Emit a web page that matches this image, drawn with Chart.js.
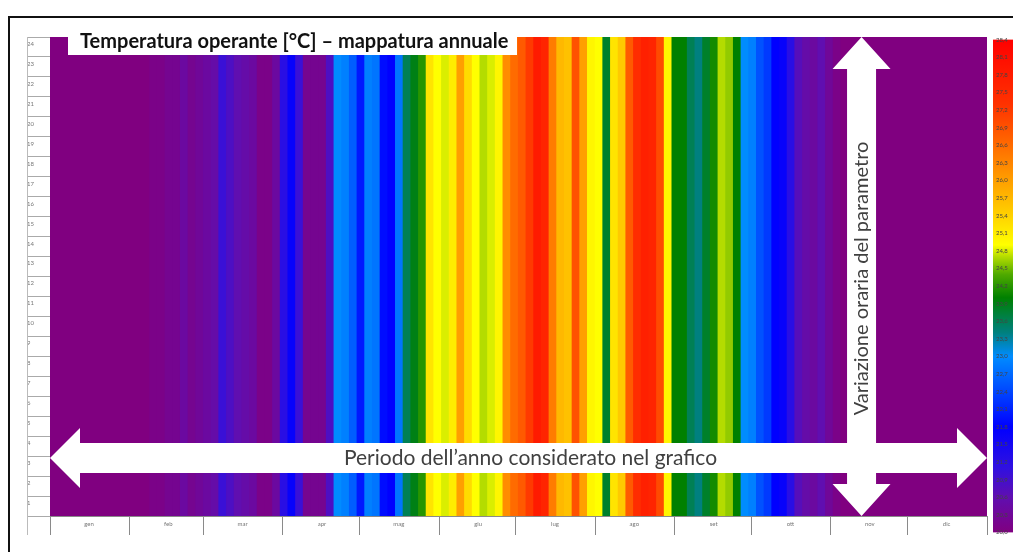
<!DOCTYPE html>
<html>
<head>
<meta charset="utf-8">
<script src="https://cdn.jsdelivr.net/npm/chart.js@4.4.0/dist/chart.umd.min.js"></script>
<style>
html, body { margin: 0; padding: 0; background: #fff; width: 1013px; height: 552px; overflow: hidden; }
#cornice { position: absolute; left: 8px; top: 16px; width: 1100px; height: 600px; border-left: 2px solid #111; border-top: 2px solid #111; }
#mappa { position: absolute; left: 0; top: 0; }
#scala { position: absolute; left: 993px; top: 33px; }
</style>
</head>
<body>
<div id="cornice"></div>
<canvas id="mappa" width="1013" height="552"></canvas>
<canvas id="scala" width="40" height="506"></canvas>
<script>
const tempColonne = [
    20.0,20.0,20.0,20.0,20.0,20.0,20.0,20.0,20.0,20.0,20.0,20.0,20.0,
    20.1,20.1,20.2,20.2,20.4,20.2,20.3,20.4,
    20.5,21.0,20.8,20.6,20.5,20.4,20.1,20.1,20.4,
    21.2,21.7,21.0,20.2,20.2,20.2,20.8,
    23.0,22.9,22.6,22.0,22.9,22.8,21.9,21.8,22.8,23.6,23.9,24.2,
    25.2,24.9,24.8,25.1,26.0,25.3,24.9,24.7,24.8,25.0,26.2,26.6,
    26.8,27.2,27.8,27.6,26.4,25.7,25.6,26.9,26.0,25.0,24.9,23.8,
    25.2,25.5,26.8,27.4,27.7,27.6,27.0,25.0,24.0,24.0,23.6,23.4,
    23.8,24.1,24.7,24.6,24.0,23.0,22.9,22.5,22.3,21.8,21.7,21.2,
    20.7,20.5,20.4,20.6,20.3,20.1,
    20.0,20.0,20.0,20.0,20.0,20.0,20.0,20.0,20.0,20.0,20.0,20.0,20.0,20.0,20.0,20.0,20.0,20.0,20.0
];
const mesi = ['gen','feb','mar','apr','mag','giu','lug','ago','set','ott','nov','dic'];
const inizioMesi = [0,31,60,91,121,152,182,213,244,274,305,335,366];
const oreTick = [0,1,2,3,4,5,6,7,8,9,10,11,12,13,14,15,16,17,18,19,20,21,22,23,24];
const scalaTick = [20.0,20.3,20.6,20.9,21.2,21.5,21.8,22.1,22.4,22.7,23.0,23.3,23.6,23.9,24.2,24.5,24.8,25.1,25.4,25.7,26.0,26.3,26.6,26.9,27.2,27.5,27.8,28.1,28.4];

const GIORNI_COL = 3;
const titolo = 'Temperatura operante [°C] – mappatura annuale';
const testoOrizz = 'Periodo dell’anno considerato nel grafico';
const testoVert = 'Variazione oraria del parametro';

// scala colori viola -> blu -> verde -> giallo -> rosso
const tappe = [
    [20.0, [128,0,128]], [20.6, [96,14,176]], [21.1, [48,16,224]], [21.8, [0,0,255]],
    [22.4, [0,70,255]], [23.0, [0,140,255]], [23.4, [0,128,128]], [24.0, [0,128,0]],
    [24.4, [80,170,0]], [24.7, [180,220,0]], [24.9, [255,255,0]], [25.4, [255,210,0]],
    [26.1, [255,150,0]], [26.8, [255,90,0]], [27.3, [255,50,0]], [28.4, [255,0,0]]
];

function coloreTemp(t) {
    if (t <= tappe[0][0]) return 'rgb(' + tappe[0][1].join(',') + ')';
    for (let i = 1; i < tappe.length; i++) {
        if (t <= tappe[i][0]) {
            const a = tappe[i - 1], b = tappe[i];
            const f = (t - a[0]) / (b[0] - a[0]);
            const c = a[1].map((v, k) => Math.round(v + (b[1][k] - v) * f));
            return 'rgb(' + c.join(',') + ')';
        }
    }
    return 'rgb(' + tappe[tappe.length - 1][1].join(',') + ')';
}

const sovrapposizioni = {
    id: 'sovrapposizioni',
    afterDatasetsDraw(chart) {
        const ctx = chart.ctx;
        const ca = chart.chartArea;
        const sx = chart.scales.x, sy = chart.scales.y;
        ctx.save();
        ctx.fillStyle = '#fff';

        // freccia orizzontale
        const hy = sy.getPixelForValue(2.9);
        const hs = 15, hh = 30, hl = 30;
        ctx.beginPath();
        ctx.moveTo(ca.left, hy);
        ctx.lineTo(ca.left + hl, hy - hh);
        ctx.lineTo(ca.left + hl, hy - hs);
        ctx.lineTo(ca.right - hl, hy - hs);
        ctx.lineTo(ca.right - hl, hy - hh);
        ctx.lineTo(ca.right, hy);
        ctx.lineTo(ca.right - hl, hy + hh);
        ctx.lineTo(ca.right - hl, hy + hs);
        ctx.lineTo(ca.left + hl, hy + hs);
        ctx.lineTo(ca.left + hl, hy + hh);
        ctx.closePath();
        ctx.fill();

        // freccia verticale
        const vx = sx.getPixelForValue(317);
        const vs = 14.5, vh = 29, vl = 32;
        ctx.beginPath();
        ctx.moveTo(vx, ca.top);
        ctx.lineTo(vx + vh, ca.top + vl);
        ctx.lineTo(vx + vs, ca.top + vl);
        ctx.lineTo(vx + vs, ca.bottom - vl);
        ctx.lineTo(vx + vh, ca.bottom - vl);
        ctx.lineTo(vx, ca.bottom);
        ctx.lineTo(vx - vh, ca.bottom - vl);
        ctx.lineTo(vx - vs, ca.bottom - vl);
        ctx.lineTo(vx - vs, ca.top + vl);
        ctx.lineTo(vx - vh, ca.top + vl);
        ctx.closePath();
        ctx.fill();

        // riquadro titolo
        ctx.fillRect(ca.left + 18, ca.top - 11, 449, 29);

        ctx.fillStyle = '#111';
        ctx.font = 'bold 20px Lato';
        ctx.textAlign = 'left';
        ctx.textBaseline = 'middle';
        ctx.fillText(titolo, ca.left + 30, ca.top + 5);

        ctx.fillStyle = '#404040';
        ctx.font = '21px Lato';
        ctx.textAlign = 'center';
        ctx.fillText(testoOrizz, (ca.left + ca.right) / 2 + 12, hy);

        ctx.translate(vx, (ca.top + ca.bottom) / 2 + 2);
        ctx.rotate(-Math.PI / 2);
        ctx.font = '20px Lato';
        ctx.fillText(testoVert, 0, 0);
        ctx.restore();

        // bordo sinistro colonna ore
        ctx.save();
        ctx.strokeStyle = '#bbb';
        ctx.lineWidth = 1;
        ctx.beginPath();
        ctx.moveTo(sy.left + 0.5, ca.top);
        ctx.lineTo(sy.left + 0.5, ca.bottom + 19);
        ctx.stroke();
        ctx.restore();
    }
};

new Chart(document.getElementById('mappa'), {
    type: 'bar',
    data: {
        datasets: [{
            data: tempColonne.map((t, i) => ({x: i * GIORNI_COL + GIORNI_COL / 2, y: [0, 24]})),
            backgroundColor: tempColonne.map(coloreTemp),
            borderWidth: 0,
            barPercentage: 1,
            categoryPercentage: 1,
            inflateAmount: 0.6
        }]
    },
    options: {
        responsive: false,
        animation: false,
        layout: {padding: {left: 27, top: 37, right: 26, bottom: 17}},
        plugins: {legend: {display: false}, tooltip: {enabled: false}},
        scales: {
            x: {
                type: 'linear',
                min: 0,
                max: 366,
                offset: false,
                afterBuildTicks: s => { s.ticks = inizioMesi.map(v => ({value: v})); },
                afterFit: s => { s.height = 19; },
                grid: {drawOnChartArea: false, offset: false, tickLength: 19, color: '#8a8a8a'},
                border: {color: '#8a8a8a'},
                ticks: {
                    autoSkip: false, maxRotation: 0, padding: -15, labelOffset: 39,
                    font: {size: 6, family: 'Lato'}, color: '#777',
                    callback: (v, i) => mesi[i] || ''
                }
            },
            y: {
                min: 0,
                max: 24,
                afterBuildTicks: s => { s.ticks = oreTick.map(v => ({value: v})); },
                afterFit: s => { s.width = 23; },
                grid: {drawOnChartArea: false, tickLength: 23, color: '#aaa'},
                border: {color: '#8a8a8a'},
                ticks: {
                    autoSkip: false, crossAlign: 'far', labelOffset: 7, padding: 0,
                    font: {size: 6, family: 'Lato'}, color: '#777',
                    callback: v => v === 0 ? '' : String(v)
                }
            }
        }
    },
    plugins: [sovrapposizioni]
});

new Chart(document.getElementById('scala'), {
    type: 'bar',
    data: {
        labels: [''],
        datasets: [{
            data: [[scalaTick[0], scalaTick[scalaTick.length - 1]]],
            backgroundColor: c => {
                const ys = c.chart.scales.y;
                if (!ys || ys.bottom === undefined) return '#800080';
                const lo = scalaTick[0], hi = scalaTick[scalaTick.length - 1];
                const g = c.chart.ctx.createLinearGradient(0, ys.getPixelForValue(lo), 0, ys.getPixelForValue(hi));
                tappe.forEach(([t]) => g.addColorStop((t - lo) / (hi - lo), coloreTemp(t)));
                return g;
            },
            borderWidth: 0,
            barPercentage: 1,
            categoryPercentage: 1
        }]
    },
    options: {
        responsive: false,
        animation: false,
        layout: {padding: 0},
        plugins: {legend: {display: false}, tooltip: {enabled: false}},
        scales: {
            x: {display: false, offset: false},
            y: {
                min: scalaTick[0],
                max: scalaTick[scalaTick.length - 1],
                afterBuildTicks: s => { s.ticks = scalaTick.map(v => ({value: v})); },
                afterFit: s => { s.width = 0; },
                grid: {display: false},
                border: {display: false},
                ticks: {
                    z: 1, autoSkip: false, mirror: true, padding: 3,
                    font: {size: 6, family: 'Lato'}, color: '#444',
                    callback: v => v.toFixed(1).replace('.', ',')
                }
            }
        }
    }
});
</script>
</body>
</html>
